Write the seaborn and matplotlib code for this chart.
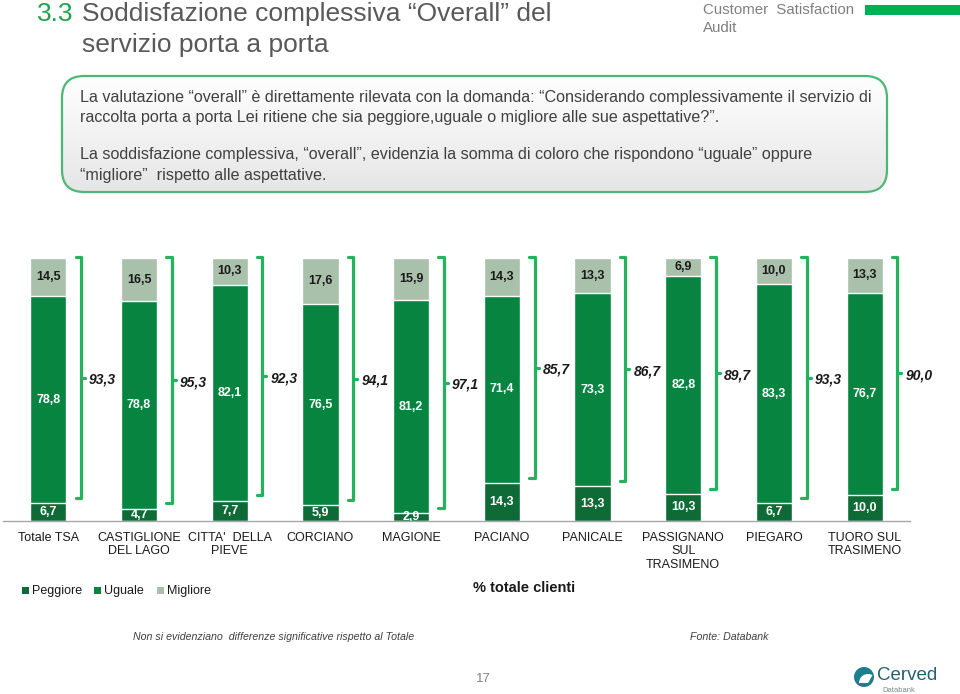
import numpy as np
import matplotlib
matplotlib.use("Agg")
import matplotlib.pyplot as plt
import seaborn as sns
from matplotlib import font_manager
from matplotlib.patches import FancyBboxPatch, Rectangle, Circle, Wedge

# ---------------- data ----------------
categories = ["Totale TSA", "CASTIGLIONE\nDEL LAGO", "CITTA'  DELLA\nPIEVE", "CORCIANO",
              "MAGIONE", "PACIANO", "PANICALE", "PASSIGNANO\nSUL\nTRASIMENO",
              "PIEGARO", "TUORO SUL\nTRASIMENO"]
peggiore = [6.7, 4.7, 7.7, 5.9, 2.9, 14.3, 13.3, 10.3, 6.7, 10.0]
uguale = [78.8, 78.8, 82.1, 76.5, 81.2, 71.4, 73.3, 82.8, 83.3, 76.7]
migliore = [14.5, 16.5, 10.3, 17.6, 15.9, 14.3, 13.3, 6.9, 10.0, 13.3]
uguale_migliore = [93.3, 95.3, 92.3, 94.1, 97.1, 85.7, 86.7, 89.7, 93.3, 90.0]
series_names = ["Peggiore", "Uguale", "Migliore"]

# ---------------- style ----------------
sns.set_theme(style="white")
names = {f.name for f in font_manager.fontManager.ttflist}
BASE = "Liberation Sans" if "Liberation Sans" in names else "DejaVu Sans"
NARROW = "Liberation Sans Narrow" if "Liberation Sans Narrow" in names else BASE
plt.rcParams["font.family"] = [BASE, "DejaVu Sans"]

C_PEG = "#0e6b36"
C_UGU = "#078540"
C_MIG = "#a9c0aa"
C_BRK = "#22b35c"

W, H = 960, 694
fig = plt.figure(figsize=(W / 100, H / 100), dpi=100)
fig.patch.set_facecolor("white")

# background axes in pixel coordinates
bg = fig.add_axes([0, 0, 1, 1], zorder=0)
bg.set_xlim(0, W)
bg.set_ylim(H, 0)
bg.axis("off")

# title
TFS = 19
bg.text(37, 14, "3.3", color="#1fa24b", fontsize=TFS, family=[NARROW, "DejaVu Sans"], va="center", ha="left")
bg.text(82, 14, "Soddisfazione complessiva \u201cOverall\u201d del", color="#595959", fontsize=TFS,
        family=[NARROW, "DejaVu Sans"], va="center", ha="left")
bg.text(82, 45, "servizio porta a porta", color="#595959", fontsize=TFS,
        family=[NARROW, "DejaVu Sans"], va="center", ha="left")
bg.text(703, 10, "Customer  Satisfaction", color="#7f7f7f", fontsize=10.8,
        family=[NARROW, "DejaVu Sans"], va="center", ha="left")
bg.text(703, 28, "Audit", color="#7f7f7f", fontsize=10.8,
        family=[NARROW, "DejaVu Sans"], va="center", ha="left")
bg.add_patch(Rectangle((865, 5), 95, 10, color="#00b050", lw=0))

# rounded gradient box
box = FancyBboxPatch((62, 76), 825, 116, boxstyle="round,pad=0,rounding_size=22",
                     facecolor="none", edgecolor="#4db875", lw=1.6, zorder=3)
bg.add_patch(box)
grad = np.linspace(1.0, 0.90, 100).reshape(-1, 1)
im = bg.imshow(np.dstack([grad, grad, grad]), extent=(62, 887, 192, 76), aspect="auto", zorder=2)
im.set_clip_path(box)
bg.set_xlim(0, W)
bg.set_ylim(H, 0)
box_lines = [
    (97, "La valutazione \u201coverall\u201d \u00e8 direttamente rilevata con la domanda: \u201cConsiderando complessivamente il servizio di"),
    (117, "raccolta porta a porta Lei ritiene che sia peggiore,uguale o migliore alle sue aspettative?\u201d."),
    (154, "La soddisfazione complessiva, \u201coverall\u201d, evidenzia la somma di coloro che rispondono \u201cuguale\u201d oppure"),
    (175, "\u201cmigliore\u201d  rispetto alle aspettative."),
]
for y, t in box_lines:
    bg.text(80, y, t, color="#404040", fontsize=11.6, family=[NARROW, "DejaVu Sans"],
            va="center", ha="left", zorder=4)

# legend
leg_items = [(22, C_PEG, series_names[0]), (94, C_UGU, series_names[1]), (157, C_MIG, series_names[2])]
for x, c, lab in leg_items:
    bg.add_patch(Rectangle((x, 587), 7, 7, color=c, lw=0))
    bg.text(x + 10, 591, lab, fontsize=9, color="#1a1a1a", va="center", ha="left")

bg.text(473, 588, "% totale clienti", fontsize=10.5, fontweight="bold", color="#1a1a1a",
        va="center", ha="left")

# footer
bg.text(133, 637, "Non si evidenziano  differenze significative rispetto al Totale", fontsize=7.7,
        style="italic", color="#404040", family=[NARROW, "DejaVu Sans"], va="center", ha="left")
bg.text(690, 637, "Fonte: Databank", fontsize=7.7, style="italic", color="#404040",
        family=[NARROW, "DejaVu Sans"], va="center", ha="left")
bg.text(483, 679, "17", fontsize=9.5, color="#808080", va="center", ha="center")

# Cerved logo
bg.add_patch(Circle((864, 677), 10, color="#1b7f8e", lw=0))
bg.add_patch(Wedge((868, 683), 9, 180, 300, color="white", lw=0))
bg.text(877, 676, "Cerved", fontsize=13.5, color="#24606e", va="center", ha="left",
        family=[NARROW, "DejaVu Sans"])
bg.text(882, 690, "Databank", fontsize=5.5, color="#7a8a8e", va="center", ha="left")

# ---------------- main chart ----------------
ax = fig.add_axes([3 / W, 1 - 521 / H, 907 / W, 263 / H], zorder=1)
ax.set_facecolor("none")

peg = np.array(peggiore)
ugu = np.array(uguale)
mig = np.array(migliore)
x = np.arange(len(categories))

layers = [(peg + ugu + mig, C_MIG), (peg + ugu, C_UGU), (peg, C_PEG)]
for vals, col in layers:
    sns.barplot(x=categories, y=vals, color=col, width=0.4, saturation=1, errorbar=None,
                edgecolor="white", linewidth=1.0, ax=ax)

ax.set_xlim(-0.5, len(categories) - 0.5)
ax.set_ylim(0, 100)
ax.set_yticks([])
ax.set_ylabel("")
ax.set_xlabel("")
for s in ["top", "left", "right"]:
    ax.spines[s].set_visible(False)
ax.spines["bottom"].set_color("#a6a6a6")
ax.spines["bottom"].set_linewidth(1)
ax.set_xticks(x)
ax.set_xticklabels(categories, fontsize=9, color="#1a1a1a", linespacing=1.15)
ax.set_xticks(np.arange(-0.5, len(categories), 1), minor=True)
ax.tick_params(axis="x", which="major", length=0, pad=8)
ax.tick_params(axis="x", which="minor", length=5, color="#a6a6a6", width=1, direction="out")


def fmt(v):
    return f"{v:.1f}".replace(".", ",")


for i in x:
    p, u, m = peg[i], ugu[i], mig[i]
    ax.text(i, p / 2, fmt(p), ha="center", va="center", color="white", fontsize=9,
            fontweight="bold", clip_on=True)
    ax.text(i, p + u / 2, fmt(u), ha="center", va="center", color="white", fontsize=9,
            fontweight="bold")
    ax.text(i, p + u + m / 2, fmt(m), ha="center", va="center", color="#1a1a1a", fontsize=9,
            fontweight="bold")
    # bracket
    bx = i + 0.36
    top = 100.3
    bot = p + 2.0
    mid = (top + bot) / 2
    ax.plot([bx - 0.06, bx, bx, bx - 0.06], [top, top, bot, bot], color=C_BRK, lw=2.3,
            solid_capstyle="round", solid_joinstyle="round", clip_on=False)
    ax.plot([bx, bx + 0.045], [mid, mid], color=C_BRK, lw=2.3, solid_capstyle="round",
            clip_on=False)
    ax.text(bx + 0.09, mid - 0.8, fmt(uguale_migliore[i]), ha="left", va="center",
            fontsize=10, fontweight="bold", style="italic", color="#1a1a1a")

fig.savefig("out.png", dpi=100, facecolor="white")
